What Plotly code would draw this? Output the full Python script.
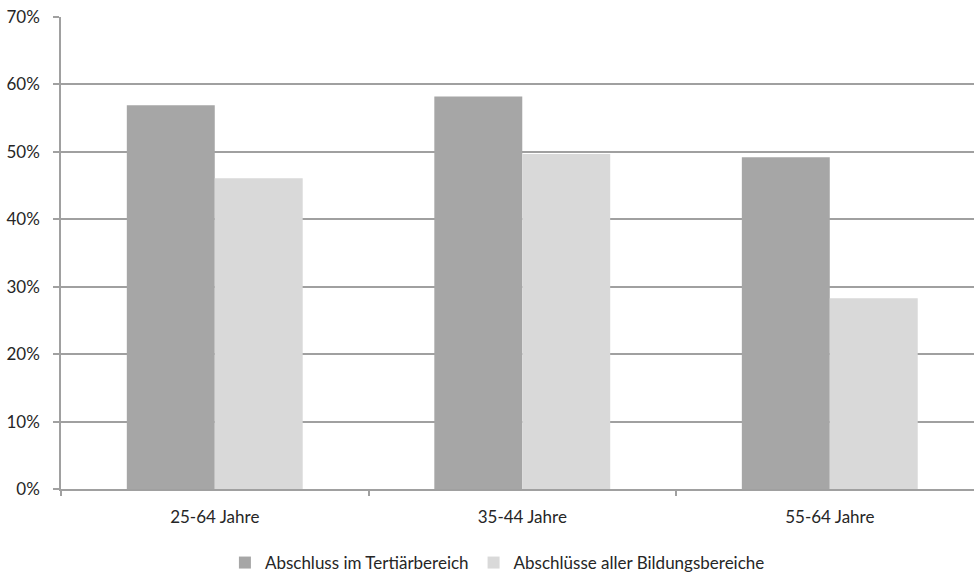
import plotly.graph_objects as go

# Age groups and shares (in %)
categories = ["25-64 Jahre", "35-44 Jahre", "55-64 Jahre"]
tertiaer = [56.9, 58.2, 49.2]
alle_bereiche = [46.1, 49.7, 28.3]
series_names = ["Abschluss im Tertiärbereich", "Abschlüsse aller Bildungsbereiche"]
y_ticks = [0, 10, 20, 30, 40, 50, 60, 70]
y_tick_labels = [f"{v}%" for v in y_ticks]

FONT = "Lato"
TEXT = "#262626"
GRID = "#a0a0a0"
FS = 17

fig = go.Figure()
fig.add_trace(go.Bar(
    x=categories, y=tertiaer, name=series_names[0],
    marker=dict(color="#a6a6a6", line=dict(width=0)),
))
fig.add_trace(go.Bar(
    x=categories, y=alle_bereiche, name=series_names[1],
    marker=dict(color="#d9d9d9", line=dict(width=0)),
))

fig.update_layout(
    width=974, height=581,
    margin=dict(l=61, r=0, t=17, b=88),
    paper_bgcolor="white", plot_bgcolor="white",
    barmode="group", bargap=0.428, bargroupgap=0,
    font=dict(family=FONT, size=FS, color=TEXT),
    showlegend=True,
    legend=dict(
        orientation="h", x=0.478, xanchor="center", y=-0.158, yanchor="middle",
        font=dict(family=FONT, size=FS, color=TEXT),
        itemwidth=30, traceorder="normal",
    ),
)

fig.update_xaxes(
    type="category", range=[-0.5, 2.469],
    showline=True, linecolor=GRID, linewidth=1.5,
    ticks="outside", tickson="boundaries", ticklen=5, tickcolor=GRID, tickwidth=1.5,
    showgrid=False, ticklabelstandoff=12,
    tickfont=dict(family=FONT, size=FS, color=TEXT),
)
fig.update_yaxes(
    range=[0, 70], tickvals=y_ticks, ticktext=y_tick_labels,
    showline=True, linecolor=GRID, linewidth=1.5,
    ticks="outside", ticklen=6, tickcolor=GRID, tickwidth=1.5,
    showgrid=True, gridcolor=GRID, gridwidth=1.5,
    zeroline=False, ticklabelstandoff=10,
    tickfont=dict(family=FONT, size=FS, color=TEXT),
)

fig.write_html("out.html")
